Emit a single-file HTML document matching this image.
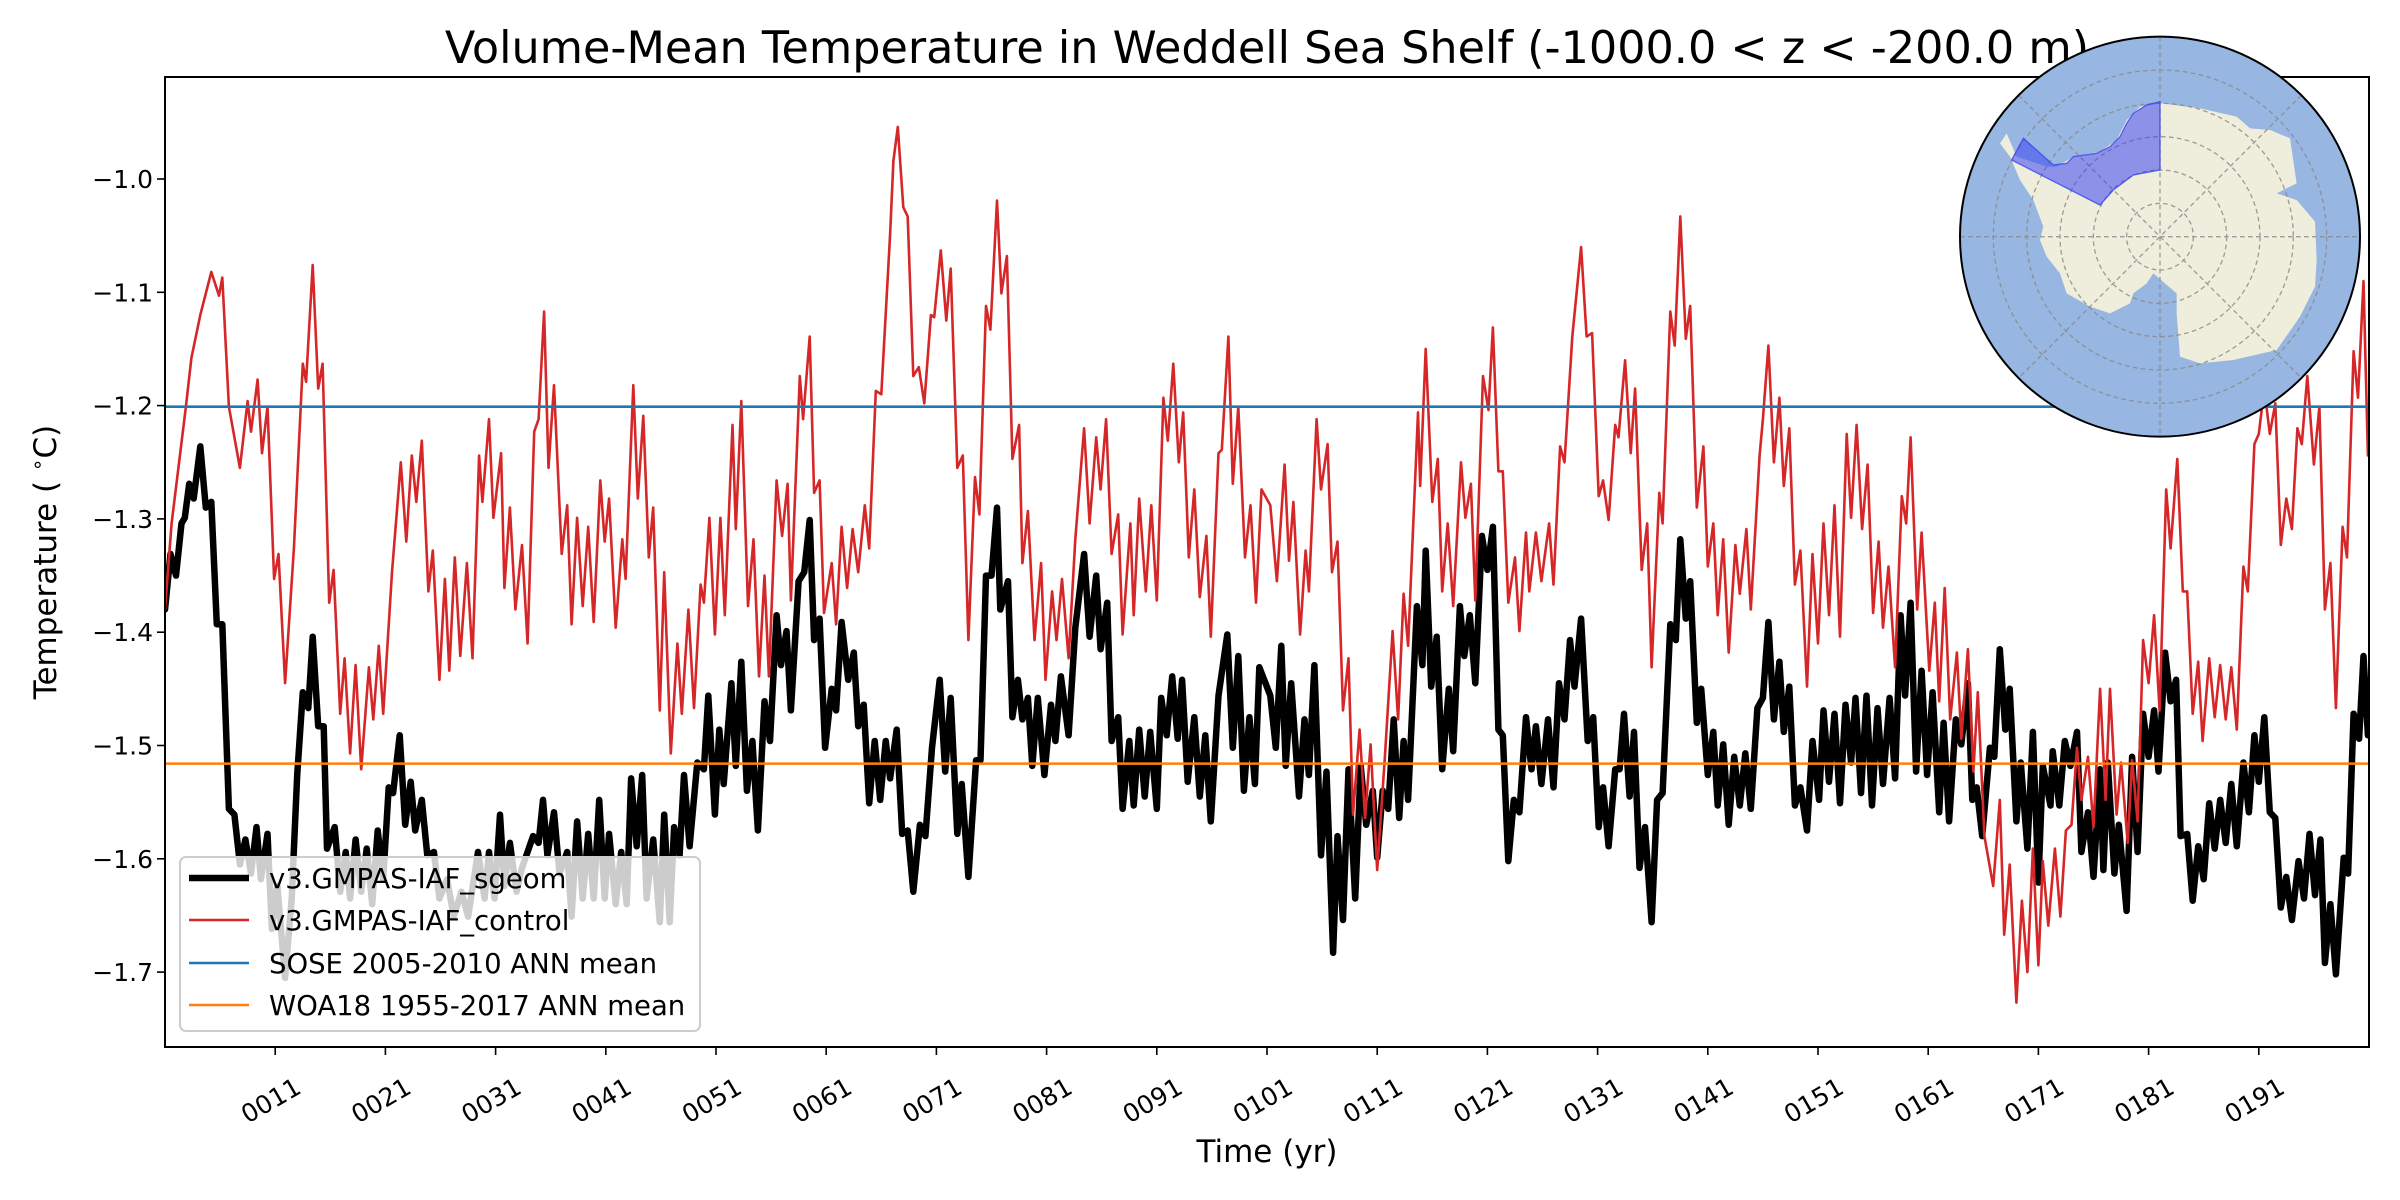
<!DOCTYPE html>
<html>
<head>
<meta charset="utf-8">
<style>
html,body{margin:0;padding:0;background:#fff;}
svg{display:block;}
text{font-family:"DejaVu Sans","Liberation Sans",sans-serif;}
</style>
</head>
<body>
<svg id="chart" width="2400" height="1200" viewBox="0 0 2400 1200" xmlns="http://www.w3.org/2000/svg">
  <rect x="0" y="0" width="2400" height="1200" fill="#fff"/>
  <defs><clipPath id="axclip"><rect x="165" y="77" width="2204" height="970"/></clipPath></defs>
  <text x="1267" y="63" font-size="44.5" text-anchor="middle" fill="#000">Volume-Mean Temperature in Weddell Sea Shelf (-1000.0 &lt; z &lt; -200.0 m)</text>
  <g id="plot" clip-path="url(#axclip)"></g>
  <g id="refs" clip-path="url(#axclip)"></g>
  <rect x="165" y="77" width="2204" height="970" fill="none" stroke="#000" stroke-width="2"/>
  <g id="xticks"></g>
  <g id="yticks"></g>
  <text x="1267" y="1162" font-size="31" text-anchor="middle">Time (yr)</text>
  <text transform="translate(56,562) rotate(-90)" font-size="31" text-anchor="middle">Temperature ( <tspan font-size="20" dy="-12">∘</tspan><tspan dy="12">C)</tspan></text>

  <g id="legend">
    <rect x="180" y="857" width="520" height="174" rx="6" fill="rgba(255,255,255,0.8)" stroke="#cccccc" stroke-width="2"/>
    <g>
      <line x1="189" y1="878" x2="249" y2="878" stroke="#000" stroke-width="6.5"/>
      <text x="269" y="888" font-size="27.5">v3.GMPAS-IAF_sgeom</text>
    </g>
    <g>
      <line x1="189" y1="920" x2="249" y2="920" stroke="#d62728" stroke-width="2.5"/>
      <text x="269" y="930" font-size="27.5">v3.GMPAS-IAF_control</text>
    </g>
    <g>
      <line x1="189" y1="963" x2="249" y2="963" stroke="#1f77b4" stroke-width="2.5"/>
      <text x="269" y="973" font-size="27.5">SOSE 2005-2010 ANN mean</text>
    </g>
    <g>
      <line x1="189" y1="1005" x2="249" y2="1005" stroke="#ff7f0e" stroke-width="2.5"/>
      <text x="269" y="1015" font-size="27.5">WOA18 1955-2017 ANN mean</text>
    </g>
  </g>

  <g id="inset-map" transform="translate(1900,0) scale(0.33333)">
    <circle cx="780" cy="710" r="600" fill="#97b6e1"/>
    <path fill="#efeedc" d="M785,310 L900,325 L1010,350 L1050,385 L1110,390 L1170,415 L1190,550 L1130,580 L1190,600 L1245,665 L1250,780 L1245,860 L1200,950 L1130,1050 L1000,1080 L900,1090 L840,1070 L830,940 L830,880 L760,820 L740,850 L700,880 L690,910 L630,940 L570,920 L500,880 L480,820 L440,770 L420,720 L430,680 L400,600 L360,540 L330,470 L300,430 L320,400 L350,470 L440,500 L470,500 L520,470 L600,455 L650,420 L680,360 L720,320 Z"/>
    <g fill="none" stroke="#888" stroke-width="4" stroke-dasharray="14,10" opacity="0.8">
      <circle cx="780" cy="710" r="100"/><circle cx="780" cy="710" r="200"/><circle cx="780" cy="710" r="300"/><circle cx="780" cy="710" r="400"/><circle cx="780" cy="710" r="500"/>
      <line x1="180" y1="710" x2="1380" y2="710"/><line x1="780" y1="110" x2="780" y2="1310"/>
      <line x1="356" y1="286" x2="1204" y2="1134"/><line x1="1204" y1="286" x2="356" y2="1134"/>
    </g>
    <path fill="rgba(60,70,240,0.55)" stroke="rgba(60,70,240,0.8)" stroke-width="4" d="M780,305 L740,315 L700,340 L680,370 L660,410 L630,440 L590,460 L520,470 L500,490 L460,495 L370,415 L335,480 L600,615 L640,570 L700,525 L780,510 Z"/>
    <circle cx="780" cy="710" r="600" fill="none" stroke="#000" stroke-width="6"/>
  </g>
</svg>
<script>
// ---- data ----
const xTickYears = [11,21,31,41,51,61,71,81,91,101,111,121,131,141,151,161,171,181,191];
const xTickLabels = ["0011","0021","0031","0041","0051","0061","0071","0081","0091","0101","0111","0121","0131","0141","0151","0161","0171","0181","0191"];
const yTickValues = [-1.0,-1.1,-1.2,-1.3,-1.4,-1.5,-1.6,-1.7];
const yTickLabels = ["−1.0","−1.1","−1.2","−1.3","−1.4","−1.5","−1.6","−1.7"];
const soseMean = -1.201;
const woaMean = -1.516;

const controlT = [
1,1.6,2.9,3.4,4.2,5.2,5.9,6.2,6.8,7.8,8.5,8.8,9.4,9.8,10.3,10.9,11.3,11.9,12.7,13.5,
13.8,14.4,14.9,15.3,15.9,16.3,16.9,17.3,17.8,18.3,18.8,19.5,19.9,20.4,20.8,21.6,22.4,22.9,23.4,23.8,
24.3,24.9,25.3,25.9,26.4,26.8,27.3,27.8,28.4,28.9,29.5,29.8,30.4,30.8,31.5,31.8,32.3,32.8,33.4,33.9,
34.5,34.9,35.4,35.8,36.3,37.0,37.5,37.9,38.4,38.9,39.4,39.9,40.5,40.9,41.3,41.9,42.5,42.8,43.5,43.9,
44.4,44.9,45.3,45.9,46.3,46.9,47.5,47.9,48.5,49.0,49.6,49.9,50.4,
50.9,51.4,51.8,52.5,52.8,53.3,53.9,54.4,54.9,55.4,55.8,56.5,57.0,57.5,57.8,58.6,58.9,59.5,59.9,60.4,
60.8,61.5,61.9,62.4,62.9,63.4,63.9,64.5,64.9,65.5,66.0,66.8,67.1,67.5,68.0,68.4,68.9,69.4,69.9,70.5,
70.8,71.4,71.9,72.3,72.9,73.4,73.9,74.5,74.9,75.5,75.9,76.5,76.9,77.4,77.9,78.5,78.8,79.3,79.9,80.5,
80.9,81.5,81.9,82.4,83.0,83.6,84.4,84.9,85.5,85.9,86.4,86.9,87.5,87.9,88.6,88.9,89.4,90.0,90.5,91.0,
91.6,92.0,92.5,93.0,93.4,93.9,94.4,94.9,95.5,95.9,96.6,96.9,97.5,97.9,98.4,99.0,99.5,100.0,100.5,
101.3,101.9,102.6,103.0,103.4,104.0,104.5,104.8,105.5,105.9,106.5,106.9,107.4,107.9,108.4,108.8,109.4,109.9,110.4,111.0,
111.7,112.4,112.9,113.4,113.8,114.7,114.9,115.4,116.0,116.5,116.9,117.4,117.9,118.6,119.0,119.5,119.9,120.6,121.1,121.5,
122.0,122.4,122.9,123.5,123.9,124.5,124.8,125.4,125.9,126.6,127.0,127.6,128.0,128.7,129.5,130.0,130.5,131.1,131.5,132.0,
132.6,132.9,133.5,134.0,134.4,135.0,135.5,135.9,136.6,136.9,137.6,138.0,138.5,139.0,139.4,140.0,140.6,141.0,141.5,141.9,
142.4,142.9,143.5,143.9,144.5,144.9,145.7,146.0,146.5,147.0,147.5,147.9,148.4,148.9,149.4,150.0,150.5,
151.0,151.5,152.0,152.5,153.0,153.6,154.0,154.5,155.0,155.5,156.0,156.5,156.9,157.4,158.0,158.6,159.0,159.4,160.0,
160.4,161.1,161.6,162.0,162.5,163.0,163.6,164.0,164.6,165.1,165.5,166.1,166.9,167.5,167.9,168.4,169.0,169.5,170.0,170.5,
171.0,171.4,171.9,172.5,173.0,173.5,174.0,174.5,174.9,175.5,176.0,176.6,177.1,177.5,178.1,178.5,179.1,179.5,180.0,180.5,
181.0,181.5,182.0,182.6,183.0,183.6,184.1,184.5,185.0,185.5,185.9,186.5,187.0,187.5,188.0,188.5,189.0,189.6,190.0,190.6,
191.0,191.5,192.0,192.5,193.0,193.5,194.0,194.5,194.9,195.4,196.0,196.5,197.0,197.5,198.0,198.6,199.0,199.6,200.0,200.5,
200.9,201];
const controlV = [
-1.380,-1.304,-1.201,-1.158,-1.120,-1.082,-1.103,-1.087,-1.201,-1.255,-1.196,-1.223,-1.177,-1.242,-1.201,-1.353,-1.331,-1.445,-1.326,-1.163,
-1.179,-1.076,-1.185,-1.163,-1.374,-1.345,-1.472,-1.423,-1.507,-1.429,-1.521,-1.431,-1.477,-1.412,-1.472,-1.347,-1.250,-1.320,-1.244,-1.285,
-1.231,-1.364,-1.328,-1.442,-1.353,-1.434,-1.334,-1.421,-1.339,-1.423,-1.244,-1.285,-1.212,-1.299,-1.242,-1.361,-1.290,-1.380,-1.323,-1.410,
-1.223,-1.212,-1.117,-1.255,-1.182,-1.331,-1.288,-1.393,-1.299,-1.377,-1.307,-1.391,-1.266,-1.320,-1.282,-1.396,-1.318,-1.353,-1.182,-1.282,
-1.209,-1.334,-1.290,-1.469,-1.347,-1.507,-1.410,-1.472,-1.380,-1.467,-1.358,-1.374,-1.299,
-1.402,-1.299,-1.385,-1.217,-1.309,-1.196,-1.377,-1.318,-1.439,-1.350,-1.439,-1.266,-1.315,-1.269,-1.372,-1.174,-1.212,-1.139,-1.277,-1.266,
-1.383,-1.339,-1.393,-1.307,-1.361,-1.309,-1.347,-1.288,-1.326,-1.187,-1.190,-1.049,-0.984,-0.954,-1.025,-1.033,-1.174,-1.166,-1.198,-1.120,
-1.122,-1.063,-1.125,-1.079,-1.255,-1.244,-1.407,-1.263,-1.296,-1.112,-1.133,-1.019,-1.101,-1.068,-1.247,-1.217,-1.339,-1.293,-1.407,-1.339,
-1.442,-1.364,-1.407,-1.353,-1.423,-1.318,-1.220,-1.304,-1.228,-1.274,-1.212,-1.331,-1.296,-1.402,-1.304,-1.385,-1.282,-1.364,-1.288,-1.372,
-1.193,-1.231,-1.163,-1.250,-1.206,-1.334,-1.274,-1.369,-1.315,-1.404,-1.242,-1.239,-1.139,-1.269,-1.201,-1.334,-1.288,-1.374,-1.274,
-1.288,-1.355,-1.252,-1.337,-1.285,-1.402,-1.328,-1.364,-1.212,-1.274,-1.234,-1.347,-1.320,-1.469,-1.423,-1.561,-1.486,-1.564,-1.499,-1.610,
-1.510,-1.399,-1.477,-1.366,-1.412,-1.206,-1.271,-1.150,-1.285,-1.247,-1.364,-1.304,-1.377,-1.250,-1.299,-1.269,-1.372,-1.174,-1.204,-1.131,
-1.258,-1.258,-1.374,-1.334,-1.399,-1.312,-1.364,-1.312,-1.355,-1.304,-1.358,-1.236,-1.250,-1.139,-1.060,-1.139,-1.136,-1.280,-1.266,-1.301,
-1.217,-1.228,-1.160,-1.242,-1.185,-1.345,-1.304,-1.431,-1.277,-1.304,-1.117,-1.147,-1.033,-1.141,-1.112,-1.290,-1.236,-1.342,-1.304,-1.385,
-1.318,-1.418,-1.323,-1.366,-1.309,-1.380,-1.244,-1.212,-1.147,-1.250,-1.193,-1.271,-1.220,-1.358,-1.328,-1.448,-1.331,
-1.410,-1.304,-1.385,-1.288,-1.404,-1.225,-1.299,-1.217,-1.309,-1.252,-1.383,-1.320,-1.396,-1.342,-1.431,-1.280,-1.304,-1.228,-1.380,
-1.312,-1.434,-1.374,-1.461,-1.361,-1.477,-1.418,-1.494,-1.415,-1.523,-1.453,-1.580,-1.624,-1.548,-1.667,-1.605,-1.727,-1.637,-1.700,-1.591,
-1.694,-1.602,-1.659,-1.591,-1.651,-1.575,-1.570,-1.502,-1.548,-1.510,-1.572,-1.450,-1.548,-1.450,-1.561,-1.515,-1.586,-1.513,-1.567,-1.407,
-1.445,-1.385,-1.469,-1.274,-1.326,-1.247,-1.364,-1.364,-1.472,-1.426,-1.496,-1.423,-1.475,-1.429,-1.477,-1.431,-1.486,-1.342,-1.364,-1.234,
-1.225,-1.185,-1.225,-1.198,-1.323,-1.282,-1.309,-1.220,-1.234,-1.174,-1.252,-1.201,-1.380,-1.339,-1.467,-1.307,-1.334,-1.152,-1.193,-1.090,
-1.244,-1.240];

const sgeomT = [
1,1.5,2.0,2.5,2.8,3.2,3.6,4.2,4.7,5.2,5.7,6.2,6.8,7.3,7.8,8.3,8.8,9.3,9.7,10.3,
10.7,11.2,11.9,12.5,13.0,13.5,14.0,14.4,14.9,15.4,15.7,16.4,16.9,17.4,17.8,18.3,18.8,19.3,19.8,20.3,
20.8,21.3,21.7,22.3,22.8,23.3,23.7,24.3,24.8,25.4,25.9,26.6,27.2,27.9,28.5,29.4,30.0,30.4,30.9,31.4,
31.8,32.3,32.9,33.4,34.4,34.9,35.3,35.7,36.3,36.8,37.5,37.9,38.4,38.9,39.4,39.9,40.4,40.9,41.3,41.9,
42.4,42.9,43.3,43.8,44.3,44.7,45.3,45.9,46.3,46.8,47.2,47.7,48.1,48.6,49.3,49.9,50.3,
50.9,51.3,51.7,52.4,52.8,53.3,53.8,54.3,54.8,55.4,55.9,56.5,56.9,57.4,57.8,58.5,59.0,59.5,59.9,60.4,
60.9,61.5,61.9,62.4,63.0,63.5,63.9,64.4,64.9,65.4,65.9,66.4,66.8,67.4,67.9,68.4,68.9,69.5,70.0,70.6,
71.3,71.8,72.3,72.9,73.3,73.9,74.6,75.0,75.5,76.0,76.5,76.8,77.5,77.9,78.4,78.8,79.3,79.7,80.2,80.8,
81.4,81.8,82.3,83.0,83.6,84.4,84.9,85.5,85.9,86.5,86.9,87.5,87.9,88.5,88.9,89.4,89.9,90.4,91.0,91.4,
91.9,92.4,92.9,93.3,93.8,94.4,94.9,95.4,95.9,96.6,97.4,97.9,98.4,98.9,99.4,99.9,100.3,
101.3,101.8,102.3,102.7,103.2,103.9,104.4,104.8,105.3,105.9,106.4,107.0,107.4,107.9,108.4,109.0,109.5,110.0,110.6,
111.0,111.5,112.0,112.5,113.0,113.4,113.8,114.6,115.1,115.4,115.9,116.4,116.9,117.5,117.9,118.5,118.9,119.4,119.9,120.5,
121.0,121.5,122.0,122.4,122.9,123.4,123.9,124.5,125.0,125.4,125.9,126.5,127.0,127.5,128.0,128.5,128.9,129.5,130.1,130.6,
131.1,131.5,132.0,132.6,133.0,133.4,133.9,134.3,134.8,135.3,135.9,136.4,136.9,137.6,138.1,138.5,139.0,139.4,140.0,140.4,
141.0,141.5,141.9,142.4,142.9,143.4,143.9,144.4,144.9,145.5,146.0,146.5,147.0,147.5,147.9,148.4,148.9,149.4,150.0,150.5,
151.1,151.5,152.0,152.5,153.0,153.5,154.0,154.4,154.9,155.4,155.9,156.4,156.9,157.5,158.0,158.5,158.9,159.4,159.9,160.4,
160.9,161.4,162.0,162.4,162.9,163.5,164.0,164.6,165.0,165.4,165.9,166.6,167.0,167.5,168.0,168.4,169.0,169.4,170.0,170.5,
171.0,171.4,172.1,172.3,172.9,173.4,173.9,174.5,174.9,175.5,176.0,176.6,176.9,177.3,177.9,178.3,179.0,179.5,180.0,180.5,
181.0,181.5,181.9,182.5,183.0,183.5,183.9,184.5,185.0,185.5,186.0,186.5,187.0,187.5,188.0,188.5,189.0,189.6,190.1,190.6,
191.0,191.5,192.0,192.5,193.0,193.5,194.0,194.6,195.1,195.6,196.1,196.6,197.0,197.5,198.0,198.7,199.1,199.6,200.1,200.5,
200.9,201];
const sgeomV = [
-1.380,-1.331,-1.350,-1.304,-1.299,-1.269,-1.282,-1.236,-1.290,-1.285,-1.393,-1.393,-1.556,-1.561,-1.605,-1.583,-1.613,-1.572,-1.618,-1.578,
-1.662,-1.624,-1.705,-1.635,-1.526,-1.453,-1.467,-1.404,-1.483,-1.483,-1.591,-1.572,-1.629,-1.594,-1.635,-1.583,-1.629,-1.591,-1.640,-1.575,
-1.618,-1.537,-1.542,-1.491,-1.570,-1.532,-1.575,-1.548,-1.597,-1.594,-1.635,-1.618,-1.651,-1.629,-1.651,-1.594,-1.635,-1.594,-1.635,-1.561,
-1.624,-1.586,-1.629,-1.608,-1.580,-1.586,-1.548,-1.597,-1.559,-1.613,-1.594,-1.651,-1.567,-1.635,-1.578,-1.635,-1.548,-1.635,-1.578,-1.640,
-1.594,-1.640,-1.529,-1.589,-1.526,-1.635,-1.583,-1.656,-1.561,-1.656,-1.572,-1.597,-1.526,-1.589,-1.515,-1.521,-1.456,
-1.561,-1.486,-1.534,-1.445,-1.518,-1.426,-1.540,-1.496,-1.575,-1.461,-1.496,-1.385,-1.429,-1.399,-1.469,-1.355,-1.347,-1.301,-1.407,-1.388,
-1.502,-1.450,-1.469,-1.391,-1.442,-1.418,-1.483,-1.464,-1.551,-1.496,-1.548,-1.496,-1.529,-1.486,-1.578,-1.575,-1.629,-1.570,-1.580,-1.502,
-1.442,-1.523,-1.458,-1.578,-1.534,-1.616,-1.513,-1.513,-1.350,-1.350,-1.290,-1.380,-1.355,-1.475,-1.442,-1.477,-1.458,-1.518,-1.458,-1.526,
-1.464,-1.496,-1.439,-1.491,-1.396,-1.331,-1.404,-1.350,-1.415,-1.374,-1.496,-1.475,-1.556,-1.496,-1.553,-1.486,-1.545,-1.488,-1.556,-1.458,
-1.491,-1.439,-1.494,-1.442,-1.532,-1.475,-1.545,-1.491,-1.567,-1.456,-1.402,-1.502,-1.421,-1.540,-1.475,-1.534,-1.431,
-1.456,-1.502,-1.412,-1.518,-1.445,-1.545,-1.477,-1.526,-1.429,-1.597,-1.523,-1.683,-1.580,-1.654,-1.521,-1.635,-1.518,-1.570,-1.540,
-1.599,-1.540,-1.556,-1.477,-1.564,-1.496,-1.548,-1.377,-1.429,-1.328,-1.448,-1.404,-1.521,-1.450,-1.505,-1.377,-1.421,-1.385,-1.445,-1.315,
-1.345,-1.307,-1.486,-1.491,-1.602,-1.548,-1.559,-1.475,-1.521,-1.483,-1.534,-1.477,-1.537,-1.445,-1.477,-1.407,-1.448,-1.388,-1.496,-1.475,
-1.572,-1.537,-1.589,-1.521,-1.521,-1.472,-1.545,-1.488,-1.608,-1.572,-1.656,-1.548,-1.542,-1.393,-1.407,-1.318,-1.388,-1.355,-1.480,-1.450,
-1.526,-1.488,-1.553,-1.499,-1.570,-1.510,-1.553,-1.507,-1.556,-1.467,-1.458,-1.391,-1.477,-1.426,-1.488,-1.448,-1.553,-1.537,-1.575,-1.496,
-1.548,-1.469,-1.532,-1.472,-1.551,-1.464,-1.515,-1.458,-1.542,-1.456,-1.553,-1.467,-1.534,-1.458,-1.529,-1.385,-1.456,-1.374,-1.523,-1.434,
-1.526,-1.453,-1.559,-1.480,-1.567,-1.477,-1.499,-1.445,-1.548,-1.537,-1.580,-1.502,-1.510,-1.415,-1.486,-1.450,-1.567,-1.515,-1.591,-1.488,
-1.621,-1.518,-1.553,-1.505,-1.553,-1.496,-1.518,-1.488,-1.594,-1.559,-1.616,-1.521,-1.610,-1.515,-1.613,-1.570,-1.646,-1.510,-1.594,-1.472,
-1.510,-1.469,-1.523,-1.418,-1.461,-1.442,-1.580,-1.578,-1.637,-1.589,-1.618,-1.551,-1.591,-1.548,-1.586,-1.534,-1.589,-1.515,-1.559,-1.491,
-1.532,-1.475,-1.559,-1.564,-1.643,-1.616,-1.654,-1.602,-1.635,-1.578,-1.632,-1.583,-1.692,-1.640,-1.702,-1.599,-1.613,-1.472,-1.494,-1.421,
-1.491,-1.460];

// ---- axes ----
const X0 = 165, X1 = 2369, Y0 = 77, Y1 = 1047;
const tMin = 1, tMax = 201;
const vTop = -1.0, vTopPx = 179, pxPerUnit = 1133;
function xs(t){ return X0 + (t - tMin) / (tMax - tMin) * (X1 - X0); }
function ys(v){ return vTopPx + (vTop - v) * pxPerUnit; }
const NS = "http://www.w3.org/2000/svg";
function mk(tag, attrs){ const e = document.createElementNS(NS, tag); for (const k in attrs) e.setAttribute(k, attrs[k]); return e; }

const plot = document.getElementById('plot');
function series(T, V, color, width, name){
  let d = '';
  for (let i = 0; i < T.length && i < V.length; i++) d += (i ? 'L' : 'M') + xs(T[i]).toFixed(1) + ',' + ys(V[i]).toFixed(1);
  const p = mk('path', {d: d, fill: 'none', stroke: color, 'stroke-width': width, 'stroke-linejoin': 'round', 'stroke-linecap': 'round'});
  
  
  plot.appendChild(p);
}
series(sgeomT, sgeomV, '#000', 6.5, 'sgeom-series-line');
series(controlT, controlV, '#d62728', 2.6, 'control-series-line');

const refs = document.getElementById('refs');
const sose = mk('line', {x1: X0, x2: X1, y1: ys(soseMean), y2: ys(soseMean), stroke: '#1f77b4', 'stroke-width': 2.6});


refs.appendChild(sose);
const woa = mk('line', {x1: X0, x2: X1, y1: ys(woaMean), y2: ys(woaMean), stroke: '#ff7f0e', 'stroke-width': 2.6});


refs.appendChild(woa);

const xg = document.getElementById('xticks');
xTickYears.forEach((yr, i) => {
  const x = xs(yr);
  const tk = mk('line', {x1: x, x2: x, y1: Y1, y2: Y1 + 8, stroke: '#000', 'stroke-width': 1.6});
  
  
  xg.appendChild(tk);
  const tx = mk('text', {x: 0, y: 0, 'font-size': 25, 'text-anchor': 'middle', transform: 'translate(' + x.toFixed(1) + ',1108) rotate(-30)'});
  tx.textContent = xTickLabels[i];
  
  
  xg.appendChild(tx);
});
const yg = document.getElementById('yticks');
yTickValues.forEach((v, i) => {
  const y = ys(v);
  const tk = mk('line', {x1: X0 - 8, x2: X0, y1: y, y2: y, stroke: '#000', 'stroke-width': 1.6});
  
  
  yg.appendChild(tk);
  const tx = mk('text', {x: 153, y: y + 9, 'font-size': 25, 'text-anchor': 'end'});
  tx.textContent = yTickLabels[i];
  
  
  yg.appendChild(tx);
});
</script>
</body>
</html>
